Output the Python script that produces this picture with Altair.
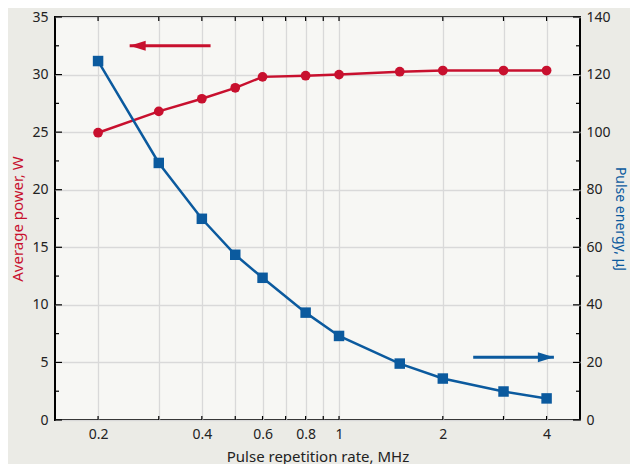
import altair as alt
import pandas as pd

# ---- data ----
freq = [0.2, 0.3, 0.4, 0.5, 0.6, 0.8, 1.0, 1.5, 2.0, 3.0, 4.0]
power = [24.95, 26.8, 27.9, 28.85, 29.8, 29.9, 30.0, 30.25, 30.35, 30.35, 30.35]
energy = [124.7, 89.3, 69.9, 57.4, 49.4, 37.3, 29.2, 19.6, 14.4, 9.9, 7.5]

x_grid = [0.2, 0.3, 0.4, 0.5, 0.6, 0.7, 0.8, 0.9, 1, 2, 3, 4]
x_labels = [0.2, 0.4, 0.6, 0.8, 1, 2, 4]
left_major = [0, 5, 10, 15, 20, 25, 30, 35]
left_minor = [2.5, 7.5, 12.5, 17.5, 22.5, 27.5, 32.5]
right_major = [0, 20, 40, 60, 80, 100, 120, 140]
right_minor = [10, 30, 50, 70, 90, 110, 130]

red_arrow_tail = [0.424]
red_arrow_tip = [0.247]
red_arrow_y = [32.5]
blue_arrow_tail = [2.45]
blue_arrow_tip = [4.2]
blue_arrow_y = [21.8]

# ---- style ----
W, H = 525, 403
RED = "#c8102e"
BLUE = "#0b5a9e"
FONT = "Noto Sans"
TXT = "#222222"

main = pd.DataFrame({"f": freq, "p": power, "e": energy})
xt = pd.DataFrame({"v": x_grid})
lmaj = pd.DataFrame({"v": left_major})
lmin = pd.DataFrame({"v": left_minor})
rmaj = pd.DataFrame({"v": right_major})
rmin = pd.DataFrame({"v": right_minor})
ra = pd.DataFrame({"x": red_arrow_tail, "x2": red_arrow_tip, "y": red_arrow_y})
ba = pd.DataFrame({"x": blue_arrow_tail, "x2": blue_arrow_tip, "y": blue_arrow_y})

lab_list = "[" + ",".join(str(v) for v in x_labels) + "]"
x_scale = alt.Scale(type="log", domain=[0.15, 5], nice=False)
x_axis = alt.Axis(
    values=x_grid,
    labelExpr=f"indexof({lab_list}, datum.value) >= 0 ? format(datum.value, '~g') : ''",
    title="Pulse repetition rate, MHz",
    grid=True, ticks=False, domain=False,
    labelPadding=7, titlePadding=8,
)
yl_scale = alt.Scale(domain=[0, 35], nice=False, zero=False)
yl_axis = alt.Axis(values=left_major, title="Average power, W", titleColor=RED,
                   grid=True, ticks=False, domain=False, labelPadding=7, titlePadding=6)
yr_scale = alt.Scale(domain=[0, 140], nice=False, zero=False)
yr_axis = alt.Axis(values=right_major, title="Pulse energy, μJ", titleColor=BLUE, orient="right",
                   grid=False, ticks=False, domain=False, labelPadding=6, titlePadding=2,
                   titleFontSize=14)


def X(field):
    return alt.X(field, type="quantitative", scale=x_scale, axis=x_axis)


def YL(field):
    return alt.Y(field, type="quantitative", scale=yl_scale, axis=yl_axis)


def YR(field):
    return alt.Y(field, type="quantitative", scale=yr_scale, axis=yr_axis)


LEFT_HEAD = "M0,0 L3.2,-1 L3.2,1 Z"
RIGHT_HEAD = "M0,0 L-3.2,-1 L-3.2,1 Z"

left = alt.layer(
    alt.Chart(xt).mark_rule(color="black", strokeWidth=1.2).encode(
        x=X("v"), y=alt.value(H), y2=alt.value(H - 4)),
    alt.Chart(xt).mark_rule(color="black", strokeWidth=1.2).encode(
        x=X("v"), y=alt.value(0), y2=alt.value(4)),
    alt.Chart(lmaj).mark_rule(color="black", strokeWidth=1.2).encode(
        y=YL("v"), x=alt.value(0), x2=alt.value(7)),
    alt.Chart(lmin).mark_rule(color="black", strokeWidth=1.2).encode(
        y=YL("v"), x=alt.value(0), x2=alt.value(4)),
    alt.Chart(main).mark_line(color=RED, strokeWidth=2.5).encode(x=X("f"), y=YL("p")),
    alt.Chart(main).mark_circle(color=RED, size=95, opacity=1).encode(x=X("f"), y=YL("p")),
    alt.Chart(ra).mark_rule(color=RED, strokeWidth=3).encode(x=X("x"), x2="x2", y=YL("y")),
    alt.Chart(ra).mark_point(shape=LEFT_HEAD, filled=True, size=100, color=RED, opacity=1,
                             strokeWidth=0).encode(x=X("x2"), y=YL("y")),
)

right = alt.layer(
    alt.Chart(rmaj).mark_rule(color="black", strokeWidth=1.2).encode(
        y=YR("v"), x=alt.value(W - 7), x2=alt.value(W)),
    alt.Chart(rmin).mark_rule(color="black", strokeWidth=1.2).encode(
        y=YR("v"), x=alt.value(W - 4), x2=alt.value(W)),
    alt.Chart(main).mark_line(color=BLUE, strokeWidth=2.5).encode(x=X("f"), y=YR("e")),
    alt.Chart(main).mark_square(color=BLUE, size=110, opacity=1).encode(x=X("f"), y=YR("e")),
    alt.Chart(ba).mark_rule(color=BLUE, strokeWidth=3).encode(x=X("x"), x2="x2", y=YR("y")),
    alt.Chart(ba).mark_point(shape=RIGHT_HEAD, filled=True, size=100, color=BLUE, opacity=1,
                             strokeWidth=0).encode(x=X("x2"), y=YR("y")),
)

chart = (
    alt.layer(left, right)
    .resolve_scale(y="independent")
    .properties(
        width=W, height=H,
        background="#ebebe6",
        autosize=alt.AutoSizeParams(type="none"),
        padding={"left": 47, "top": 9, "right": 50, "bottom": 44},
    )
    .configure_view(fill="#f7f7f4", stroke="black", strokeWidth=2)
    .configure_axis(
        labelFont=FONT, titleFont=FONT, labelFontSize=14, titleFontSize=15,
        labelColor=TXT, titleColor=TXT, titleFontWeight="normal",
        gridColor="#d9d9d9", gridWidth=1.3,
    )
)

chart.save("out.html", embed_options={"renderer": "svg", "actions": False})
